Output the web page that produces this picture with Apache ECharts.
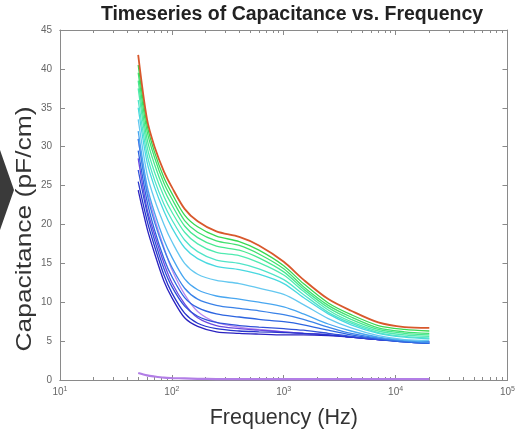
<!DOCTYPE html>
<html>
<head>
<meta charset="utf-8">
<script src="https://cdn.jsdelivr.net/npm/echarts@6/dist/echarts.min.js"></script>
<style>html,body{margin:0;padding:0;background:#fff}#c{width:518px;height:436px}</style>
</head>
<body>
<div id="c"></div>
<script>
// ---- data ----
var freqs = [50, 60, 70, 85, 100, 130, 170, 250, 400, 600, 1000, 1500, 2500, 4000, 7000, 12000, 20000];
var s00 = [0.9, 0.6, 0.45, 0.3, 0.25, 0.2, 0.15, 0.12, 0.1, 0.1, 0.1, 0.1, 0.1, 0.1, 0.1, 0.1, 0.1];
var s01 = [31.0, 24.5, 20.8, 17.0, 14.2, 11.0, 8.8, 7.4, 6.8, 6.5, 6.2, 6.0, 5.8, 5.5, 5.2, 5.0, 4.9];
var s02 = [28.5, 22.0, 18.7, 15.0, 12.5, 9.8, 8.0, 7.0, 6.6, 6.4, 6.2, 6.0, 5.8, 5.5, 5.2, 5.0, 4.9];
var s03 = [24.4, 19.5, 16.3, 12.7, 10.6, 8.0, 6.9, 6.2, 6.0, 5.9, 5.8, 5.8, 5.7, 5.5, 5.2, 5.0, 4.9];
var s04 = [25.5, 20.5, 17.2, 13.5, 11.2, 8.6, 7.3, 6.6, 6.3, 6.2, 6.1, 6.0, 5.8, 5.5, 5.2, 4.9, 4.7];
var s05 = [27.0, 21.5, 18.0, 14.3, 12.0, 9.5, 8.2, 7.4, 7.0, 6.8, 6.6, 6.4, 6.0, 5.6, 5.2, 4.9, 4.7];
var s06 = [29.5, 23.0, 19.3, 15.6, 13.3, 10.6, 9.3, 8.5, 8.1, 7.8, 7.5, 7.1, 6.4, 5.8, 5.3, 4.9, 4.7];
var s07 = [31.0, 24.0, 20.3, 16.8, 14.5, 11.8, 10.4, 9.6, 9.2, 8.9, 8.4, 7.8, 6.8, 6.0, 5.4, 5.0, 4.8];
var s08 = [32.0, 25.0, 21.5, 18.0, 15.8, 13.0, 11.6, 10.8, 10.4, 10.0, 9.4, 8.5, 7.2, 6.3, 5.5, 5.1, 4.9];
var s09 = [33.5, 26.5, 23.2, 20.0, 17.8, 15.0, 13.6, 12.8, 12.4, 11.8, 11.0, 9.7, 7.9, 6.7, 5.7, 5.2, 5.1];
var s10 = [35.0, 28.0, 24.8, 21.7, 19.6, 17.0, 15.6, 14.6, 14.2, 13.6, 12.4, 10.6, 8.5, 7.1, 6.0, 5.5, 5.3];
var s11 = [36.0, 29.0, 25.7, 22.6, 20.6, 18.0, 16.5, 15.4, 15.0, 14.3, 12.9, 11.0, 8.7, 7.3, 6.1, 5.6, 5.4];
var s12 = [37.5, 30.0, 26.7, 23.6, 21.6, 19.0, 17.5, 16.4, 16.0, 15.1, 13.5, 11.4, 9.0, 7.5, 6.3, 5.8, 5.6];
var s13 = [38.5, 31.0, 27.7, 24.5, 22.5, 19.8, 18.3, 17.2, 16.7, 15.7, 13.9, 11.7, 9.3, 7.8, 6.5, 6.0, 5.8];
var s14 = [39.5, 32.0, 28.6, 25.3, 23.3, 20.5, 19.0, 17.9, 17.3, 16.2, 14.3, 12.0, 9.6, 8.1, 6.7, 6.2, 6.0];
var s15 = [40.5, 32.8, 29.3, 26.0, 24.0, 21.2, 19.7, 18.5, 17.8, 16.7, 14.7, 12.4, 9.9, 8.4, 7.0, 6.5, 6.3];
var s16 = [41.8, 33.5, 30.0, 26.8, 24.8, 22.0, 20.4, 19.1, 18.4, 17.3, 15.2, 12.9, 10.4, 8.9, 7.4, 6.8, 6.7];
var seriesValues = [s00, s01, s02, s03, s04, s05, s06, s07, s08, s09, s10, s11, s12, s13, s14, s15, s16];
var seriesColors = ['#b27ee6', '#b888f0', '#6a48e0', '#2a22c0', '#2634cc', '#3050d8', '#2c64e0', '#3a82e8', '#48a6f0',
                    '#64c8f0', '#48d8e0', '#50e4c8', '#50eab0', '#48e890', '#40e070', '#38d850', '#d8582c'];
var xTickLabels = [10, 100, 1000, 10000, 100000];
var yMin = 0, yMax = 45, yStep = 5;

var minorTicks = [];
[10, 100, 1000, 10000].forEach(function (d) { for (var k = 2; k <= 9; k++) minorTicks.push(d * k); });

var chart = echarts.init(document.getElementById('c'), null, {renderer: 'canvas'});
var axisGrey = '#8a8a8a';
var FONT = 'Liberation Sans, Arial, sans-serif';
var series = seriesValues.map(function (vals, i) {
  return {
    type: 'line', xAxisIndex: 0, yAxisIndex: 0, showSymbol: false, symbol: 'none', smooth: 0.3,
    data: freqs.map(function (f, j) { return [f, vals[j]]; }),
    lineStyle: {color: seriesColors[i], width: i === 16 ? 1.8 : (i === 0 ? 2.2 : 1.3)},
    itemStyle: {color: seriesColors[i]},
    z: 2 + i, silent: true, animation: false
  };
});

function xAxisDef(pos, show, minor) {
  return {
    type: 'log', logBase: 10, min: 10, max: 100000, position: pos, gridIndex: 0,
    axisLine: {show: true, onZero: false, lineStyle: {color: axisGrey, width: 1}},
    axisTick: {show: true, inside: true, length: minor ? 3 : 5, lineStyle: {color: axisGrey},
               customValues: minor ? minorTicks : xTickLabels},
    axisLabel: show ? {
      show: true, customValues: xTickLabels, color: '#666', fontSize: 10, margin: 6, fontFamily: FONT,
      formatter: function (v) { return '10{s|' + Math.round(Math.log10(v)) + '}'; },
      rich: {s: {fontSize: 7, color: '#666', padding: [0, 0, 6, 0]}}
    } : {show: false},
    splitLine: {show: false},
    name: show ? 'Frequency (Hz)' : '', nameLocation: 'middle', nameGap: 27,
    nameTextStyle: {fontSize: 21.5, color: '#333', fontFamily: FONT}
  };
}

var option = {
  backgroundColor: '#fff',
  animation: false,
  title: {
    text: 'Timeseries of Capacitance vs. Frequency', left: 287, top: 0, textAlign: 'center',
    textStyle: {fontSize: 19.5, fontWeight: 'bold', color: '#222', fontFamily: FONT}
  },
  grid: {left: 60, right: 3, top: 30, bottom: 56, containLabel: false},
  xAxis: [xAxisDef('bottom', true, false), xAxisDef('bottom', false, true), xAxisDef('top', false, false), xAxisDef('top', false, true)],
  yAxis: [
    {
      type: 'value', min: yMin, max: yMax, interval: yStep, position: 'left',
      axisLine: {show: true, lineStyle: {color: axisGrey}},
      axisTick: {show: true, inside: true, length: 5, lineStyle: {color: axisGrey}},
      axisLabel: {color: '#666', fontSize: 10, margin: 8, fontFamily: FONT},
      splitLine: {show: false}
    },
    {
      type: 'value', min: yMin, max: yMax, interval: yStep, position: 'right',
      axisLine: {show: true, lineStyle: {color: axisGrey}},
      axisTick: {show: true, inside: true, length: 5, lineStyle: {color: axisGrey}},
      axisLabel: {show: false}, splitLine: {show: false}
    }
  ],
  graphic: [{
    type: 'polygon', shape: {points: [[0, 150], [14, 190], [0, 230]]},
    style: {fill: '#3a3a3a'}, z: 0, silent: true
  }, {
    type: 'text', x: 25, y: 229, rotation: Math.PI / 2, scaleX: 1.2, scaleY: 1,
    style: {text: 'Capacitance (pF/cm)', fontSize: 22, fill: '#333', fontFamily: FONT,
            textAlign: 'center', textVerticalAlign: 'middle', align: 'center', verticalAlign: 'middle'},
    z: 10, silent: true
  }],
  series: series
};
chart.setOption(option);
</script>
</body>
</html>
